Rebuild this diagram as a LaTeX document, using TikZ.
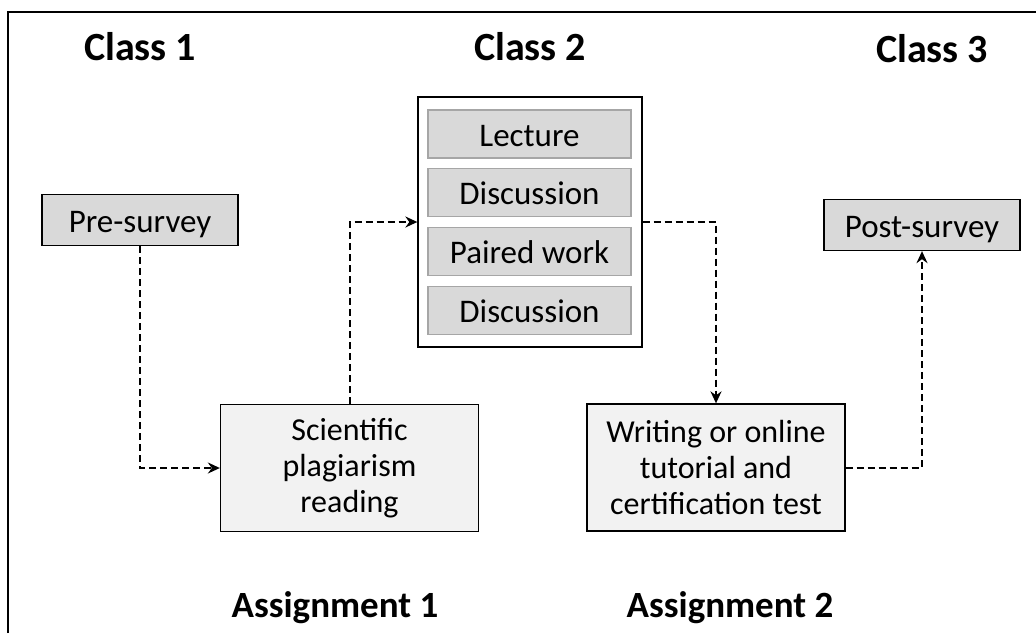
\documentclass[tikz,border=0pt]{standalone}
\usepackage{fontspec}
\setmainfont{Carlito}
\usetikzlibrary{arrows.meta}
\definecolor{boxdark}{HTML}{D9D9D9}
\definecolor{boxlight}{HTML}{F2F2F2}
\definecolor{innerline}{HTML}{A6A6A6}
\begin{document}
\begin{tikzpicture}[x=1pt,y=-1pt,
  heading/.style={font=\fontsize{40}{44}\selectfont\bfseries, inner sep=0pt, anchor=base},
  assign/.style={font=\fontsize{37}{40}\selectfont\bfseries, inner sep=0pt, anchor=base},
  survey/.style={draw=black, line width=1.3pt, fill=boxdark, minimum width=196pt, minimum height=51pt, inner sep=0pt, text height=24pt, text depth=0pt, font=\fontsize{33}{36}\selectfont},
  inner/.style={draw=innerline, line width=1.3pt, fill=boxdark, minimum width=203pt, minimum height=48pt, inner sep=0pt, text height=24pt, text depth=0pt, font=\fontsize{33}{36}\selectfont},
  task/.style={draw=black, line width=1.3pt, fill=boxlight, minimum width=258pt, minimum height=127pt, inner sep=0pt, align=center, font=\fontsize{32}{36}\selectfont},
  conn/.style={dash pattern=on 7pt off 4pt, line width=2pt, -{Stealth[length=12pt,width=11pt,inset=4pt]}}
]
\useasboundingbox (0,0) rectangle (1036,633);
\draw[line width=2pt] (8,633) -- (8,12) -- (1036,12);

\node[heading] (c1) at (140,60) {Class 1};
\node[heading] (c2) at (530,60) {Class 2};
\node[heading] (c3) at (932,62) {Class 3};
\node[assign] (a1) at (335,617) {Assignment 1};
\node[assign] (a2) at (730,617) {Assignment 2};

\node[survey] (pre) at (140,220) {Pre-survey};
\node[survey] (post) at (922,225) {Post-survey};

\node[draw=black, line width=1.3pt, fill=white, minimum width=224pt, minimum height=250pt, inner sep=0pt] (cls) at (530,222) {};
\node[inner] (lec) at (529.5,134) {Lecture};
\node[inner] (dis1) at (529.5,192.5) {Discussion};
\node[inner] (pair) at (529.5,251.5) {Paired work};
\node[inner] (dis2) at (529.5,310.5) {Discussion};

\node[task] (sci) at (349.5,468) {Scientific\\plagiarism\\reading};
\node[task] (wri) at (716,467.5) {Writing or online\\tutorial and\\certification test};

\draw[conn] (pre.south) |- (sci.west);
\draw[conn] (sci.north) |- (cls.west);
\draw[conn] (cls.east) -| (wri.north);
\draw[conn] (wri.east) -| (post.south);
\end{tikzpicture}
\end{document}
